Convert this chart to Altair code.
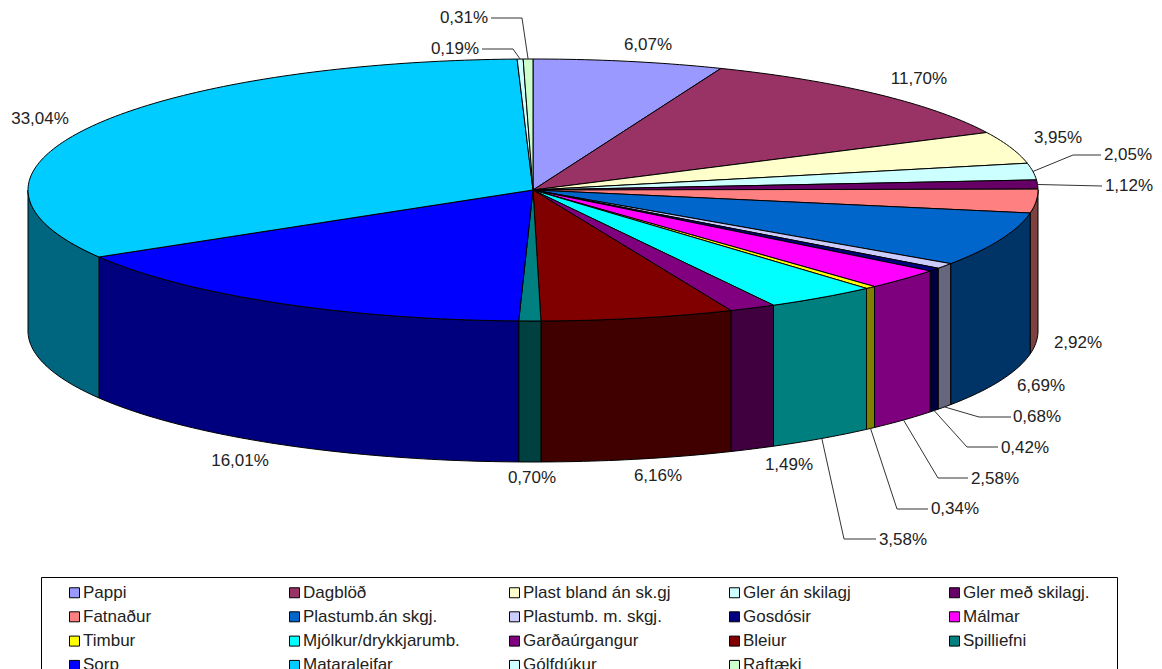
import math
import altair as alt
import pandas as pd

names = ["Pappi", "Dagblöð", "Plast bland án sk.gj", "Gler án skilagj", "Gler með skilagj.",
         "Fatnaður", "Plastumb.án skgj.", "Plastumb. m. skgj.", "Gosdósir", "Málmar",
         "Timbur", "Mjólkur/drykkjarumb.", "Garðaúrgangur", "Bleiur", "Spilliefni",
         "Sorp", "Mataraleifar", "Gólfdúkur", "Raftæki"]
shares = [6.07, 11.70, 3.95, 2.05, 1.12, 2.92, 6.69, 0.68, 0.42, 2.58, 0.34, 3.58,
          1.49, 6.16, 0.70, 16.01, 33.04, 0.19, 0.31]
top_colors = ["#9999FF", "#993366", "#FFFFCC", "#CCFFFF", "#660066", "#FF8080", "#0066CC",
              "#CCCCFF", "#000080", "#FF00FF", "#FFFF00", "#00FFFF", "#800080", "#800000",
              "#008080", "#0000FF", "#00CCFF", "#CCFFFF", "#CCFFCC"]

# Layout of the projected pie, in page pixels
CX, CY, RX, RY, DEPTH = 533, 190, 505, 131, 141
label_pos = [(648, 45), (919, 79), (1058, 138), (1128, 155), (1129, 186), (1078, 343),
             (1041, 386), (1037, 417), (1025, 448), (995, 479), (955, 509), (903, 540),
             (789, 465), (658, 476), (532, 478), (240, 461), (40, 119), (455, 49), (464, 18)]
# slice index -> leader elbow and end
leaders = {3: [(1073, 155), (1101, 155)], 4: [(1102, 186)], 7: [(979, 417), (1011, 417)],
           8: [(967, 447), (998, 447)], 9: [(938, 478), (968, 478)], 10: [(897, 509), (928, 509)],
           11: [(844, 539), (876, 539)], 17: [(513, 49), (482, 49)], 18: [(522, 18), (491, 18)]}


def pt(deg, drop=0):
    r = math.radians(deg)
    return CX + RX * math.sin(r), CY - RY * math.cos(r) + drop


def halve(hex_col):
    return "#" + "".join(f"{int(hex_col[i:i+2], 16) // 2:02X}" for i in (1, 3, 5))


def arc(a, b):
    n = max(2, int(abs(b - a)) + 2)
    return [a + (b - a) * i / (n - 1) for i in range(n)]


tops, walls, leader_rows, labels = [], [], [], []
cum = 0.0
for i, (name, share) in enumerate(zip(names, shares)):
    a, b = cum * 3.6, (cum + share) * 3.6
    mid = (a + b) / 2
    # top face
    poly = [(CX, CY)] + [pt(t) for t in arc(a, b)] + [(CX, CY)]
    for k, (x, y) in enumerate(poly):
        tops.append(dict(name=name, seq=k, x=x, y=y))
    # outer wall, visible on the front half only
    lo, hi = max(a, 90), min(b, 270)
    if hi > lo:
        ang = arc(lo, hi)
        poly = [pt(t) for t in ang] + [pt(t, DEPTH) for t in reversed(ang)]
        poly.append(poly[0])
        for k, (x, y) in enumerate(poly):
            walls.append(dict(name=name, wall=halve(top_colors[i]), seq=k, x=x, y=y))
    # leader lines
    if i in leaders:
        drop = DEPTH if 90 < mid < 270 else 0
        for k, (x, y) in enumerate([pt(mid, drop)] + leaders[i]):
            leader_rows.append(dict(name=name, seq=k, x=x, y=y))
    labels.append(dict(text=f"{share:.2f}%".replace(".", ","), x=label_pos[i][0], y=label_pos[i][1]))
    cum += share

FONT = "Liberation Sans"
xs = alt.Scale(domain=[8, 1154], range=[0, 1146], nice=False, zero=False)
ys = alt.Scale(domain=[8, 669], range=[0, 661], nice=False, zero=False)
X = alt.X("x:Q", scale=xs, axis=None)
Y = alt.Y("y:Q", scale=ys, axis=None)

frame = alt.Chart(pd.DataFrame([dict(x=41.5, x2=1117.5, y=577.5, y2=700)])).mark_rect(
    fill="white", stroke="black", strokeWidth=1, clip=False
).encode(X, alt.X2("x2:Q"), Y, alt.Y2("y2:Q"))

wall_layer = alt.Chart(pd.DataFrame(walls)).mark_line(
    stroke="black", strokeWidth=1, interpolate="linear"
).encode(X, Y, alt.Order("seq:Q"), alt.Detail("name:N"),
         fill=alt.Fill("wall:N", scale=None, legend=None))

top_layer = alt.Chart(pd.DataFrame(tops)).mark_line(
    stroke="black", strokeWidth=1, interpolate="linear"
).encode(X, Y, alt.Order("seq:Q"), alt.Detail("name:N"),
         fill=alt.Fill("name:N", sort=names, scale=alt.Scale(domain=names, range=top_colors),
                       legend=alt.Legend(orient="none", legendX=58, legendY=576, columns=5,
                                         direction="horizontal", title=None, symbolType="square",
                                         symbolSize=100, symbolStrokeColor="black", symbolStrokeWidth=1,
                                         symbolOpacity=1, gridAlign="all", columnPadding=46, rowPadding=6.3,
                                         labelFont=FONT, labelFontSize=17, labelColor="#222222",
                                         labelLimit=300, labelOffset=0, padding=0)))

leader_layer = alt.Chart(pd.DataFrame(leader_rows)).mark_line(
    stroke="#333333", strokeWidth=1
).encode(X, Y, alt.Order("seq:Q"), alt.Detail("name:N"))

text_layer = alt.Chart(pd.DataFrame(labels)).mark_text(
    font=FONT, fontSize=17, color="#222222", align="center", baseline="middle"
).encode(X, Y, text="text:N")

chart = alt.layer(frame, wall_layer, top_layer, leader_layer, text_layer).resolve_scale(
    fill="independent"
).properties(width=1146, height=661, padding=0, background="white",
             autosize=alt.AutoSizeParams(type="none")
).configure_view(stroke=None)

chart.save("out.html", embed_options={"renderer": "svg", "actions": False})
